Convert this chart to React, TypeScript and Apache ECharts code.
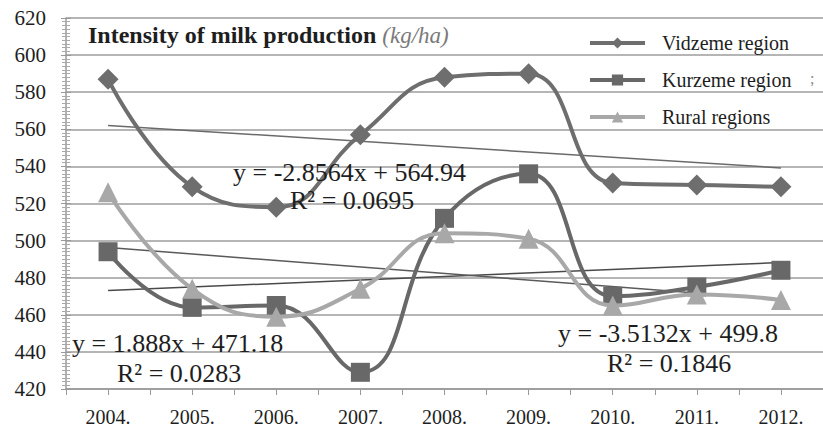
import React, { useEffect, useRef } from "react";
import * as echarts from "echarts";

const years = ["2004.", "2005.", "2006.", "2007.", "2008.", "2009.", "2010.", "2011.", "2012."];
const vidzeme = [587, 529, 518, 557, 588, 590, 531, 530, 529];
const kurzeme = [494, 464, 465, 429, 512, 536, 470, 475, 484];
const rural = [526, 474, 459, 474, 504, 501, 465, 471, 468];
// linear trend lines (start/end), as shown in the picture
const vidzemeTrend = [562.1, null, null, null, null, null, null, null, 539.2];
const kurzemeTrend = [473.1, null, null, null, null, null, null, null, 488.2];
const ruralTrend = [496.3, null, null, null, null, null, null, null, 468.2];
const equations = [
  { eq: "y = -2.8564x + 564.94", r2: "R² = 0.0695" },
  { eq: "y = 1.888x + 471.18", r2: "R² = 0.0283" },
  { eq: "y = -3.5132x + 499.8", r2: "R² = 0.1846" },
];

const SERIF = "'Times New Roman', 'Liberation Serif', 'DejaVu Serif', serif";

export default function App() {
  const ref = useRef<HTMLDivElement>(null);
  useEffect(() => {
    const chart = echarts.init(ref.current!, null, { renderer: "svg" });
    const eqPos = [
      [233, 172, 290, 200],
      [72, 343, 117, 373],
      [558, 333, 607, 363],
    ];
    const txt = (x: number, y: number, text: string, size: number, fill: string, extra: any = {}) => ({
      type: "text",
      x,
      y,
      z: 10,
      style: {
        text,
        fontFamily: SERIF,
        fontSize: size,
        fill,
        textVerticalAlign: "middle",
        ...extra,
      },
    });
    const graphics: any[] = [
      {
        type: "text",
        x: 88,
        y: 35,
        z: 10,
        style: {
          text: "{b|Intensity of milk production }{i|(kg/ha)}",
          textVerticalAlign: "middle",
          rich: {
            b: { fontFamily: SERIF, fontSize: 24, fontWeight: "bold", fill: "#1e1e1e" },
            i: { fontFamily: SERIF, fontSize: 23, fontStyle: "italic", fill: "#7a7a7a" },
          },
        },
      },
      txt(810, 78, ";", 16, "#888"),
    ];
    equations.forEach((e, i) => {
      const p = eqPos[i];
      graphics.push(txt(p[0], p[1], e.eq, 26, "#1e1e1e"));
      graphics.push(txt(p[2], p[3], e.r2, 26, "#1e1e1e"));
    });

    const trendStyle = (color: string) => ({
      type: "line",
      connectNulls: true,
      symbol: "none",
      lineStyle: { color, width: 1.5 },
      silent: true,
      z: 1,
    });

    chart.setOption({
      animation: false,
      backgroundColor: "#ffffff",
      textStyle: { fontFamily: SERIF },
      grid: { left: 66, right: -3, top: 18, bottom: 37 },
      legend: {
        data: ["Vidzeme region", "Kurzeme region", "Rural regions"],
        orient: "vertical",
        left: 583,
        top: 28,
        itemWidth: 55,
        itemHeight: 14,
        itemGap: 17,
        lineStyle: { width: 4 },
        textStyle: { fontFamily: SERIF, fontSize: 20, color: "#1e1e1e", lineHeight: 20, padding: [0, 0, 0, 12] },
      },
      xAxis: [
        {
          type: "category",
          data: years,
          boundaryGap: true,
          axisLine: { lineStyle: { color: "#999", width: 1.5 } },
          axisTick: { show: true, length: 6, lineStyle: { color: "#999" } },
          axisLabel: { fontFamily: SERIF, fontSize: 20, color: "#1e1e1e", margin: 18 },
          splitLine: { show: false },
        },
        {
          type: "category",
          data: years,
          position: "bottom",
          boundaryGap: true,
          axisLine: { show: false },
          axisTick: { show: true, alignWithLabel: true, length: 6, lineStyle: { color: "#999" } },
          axisLabel: { show: false },
          splitLine: { show: false },
        },
      ],
      yAxis: [
        {
          type: "value",
          min: 420,
          max: 620,
          interval: 20,
          axisLine: { show: true, lineStyle: { color: "#999", width: 1.5 } },
          axisTick: { show: true, length: 5, lineStyle: { color: "#999" } },
          minorTick: { show: true, splitNumber: 10, length: 4, lineStyle: { color: "#aaa" } },
          axisLabel: { fontFamily: SERIF, fontSize: 21, color: "#1e1e1e", margin: 20 },
          splitLine: { show: true, lineStyle: { color: "#b5b5b5", width: 2 } },
        },
        {
          type: "value",
          min: 420,
          max: 620,
          interval: 20,
          position: "left",
          axisLine: { show: false },
          axisTick: { show: true, inside: true, length: 5, lineStyle: { color: "#999" } },
          minorTick: { show: true, splitNumber: 10, length: 4, lineStyle: { color: "#aaa" } },
          axisLabel: { show: false },
          splitLine: { show: false },
        },
      ],
      series: [
        { name: "Vidzeme trend", data: vidzemeTrend, ...trendStyle("#6a6a6a") },
        { name: "Kurzeme trend", data: kurzemeTrend, ...trendStyle("#4a4a4a") },
        { name: "Rural trend", data: ruralTrend, ...trendStyle("#5a5a5a") },
        {
          name: "Vidzeme region",
          type: "line",
          data: vidzeme,
          smooth: 0.45,
          symbol: "diamond",
          symbolSize: 21,
          lineStyle: { color: "#6e6e6e", width: 4 },
          itemStyle: { color: "#6e6e6e" },
          z: 3,
        },
        {
          name: "Kurzeme region",
          type: "line",
          data: kurzeme,
          smooth: 0.45,
          symbol: "rect",
          symbolSize: 19,
          lineStyle: { color: "#686868", width: 4 },
          itemStyle: { color: "#686868" },
          z: 4,
        },
        {
          name: "Rural regions",
          type: "line",
          data: rural,
          smooth: 0.45,
          symbol: "triangle",
          symbolSize: 20,
          lineStyle: { color: "#a8a8a8", width: 4 },
          itemStyle: { color: "#a8a8a8" },
          z: 5,
        },
      ],
      graphic: graphics,
    });
    return () => chart.dispose();
  }, []);
  return (
    <div
      ref={ref}
      style={{ position: "fixed", left: 0, top: 0, width: 823, height: 427, background: "#fff" }}
    />
  );
}
